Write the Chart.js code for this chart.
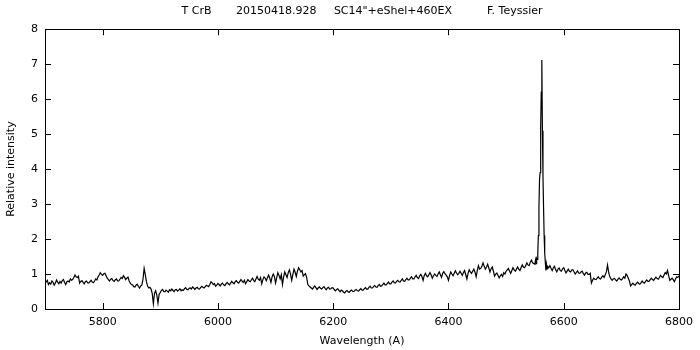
<!DOCTYPE html>
<html>
<head>
<meta charset="utf-8">
<script src="https://cdn.jsdelivr.net/npm/chart.js@4.4.0/dist/chart.umd.min.js"></script>
<style>
  html, body { margin: 0; padding: 0; background: #fff; }
  #wrap { width: 700px; height: 350px; }
</style>
</head>
<body>
<div id="wrap"><canvas id="spectre"></canvas></div>
<script>
// T CrB, spectre du 2015-04-18
const titre = 'T CrB       20150418.928     SC14"+eShel+460EX          F. Teyssier';
const xTicks = [5800, 6000, 6200, 6400, 6600, 6800];
const yTicks = [0, 1, 2, 3, 4, 5, 6, 7, 8];

// cote bleu : 5700 -> 6548 A, un point tous les 2 A
const pas = 2;
const debutBleu = 5700;
const fluxBleu = [
  0.72, 0.78, 0.82, 0.70, 0.75, 0.71, 0.80, 0.76, 0.68, 0.74, 0.83, 0.77, 0.72, 0.79, 0.74, 0.81, 0.84, 0.76, 0.70, 0.78,
  0.80, 0.77, 0.86, 0.82, 0.84, 0.90, 0.97, 0.92, 0.90, 0.94, 0.74, 0.79, 0.81, 0.76, 0.72, 0.78, 0.80, 0.75, 0.74, 0.78,
  0.82, 0.77, 0.75, 0.80, 0.86, 0.83, 0.92, 0.97, 1.04, 0.99, 0.96, 1.01, 1.02, 0.95, 0.88, 0.84, 0.80, 0.85, 0.87, 0.81,
  0.79, 0.84, 0.86, 0.80, 0.80, 0.85, 0.90, 0.87, 0.95, 0.91, 0.84, 0.88, 0.91, 0.80, 0.74, 0.70, 0.69, 0.64, 0.63, 0.68,
  0.71, 0.65, 0.60, 0.66, 0.68, 0.85, 1.16, 0.98, 0.78, 0.66, 0.60, 0.62, 0.57, 0.45, 0.15, 0.45, 0.52, 0.40, 0.17, 0.42,
  0.47, 0.53, 0.56, 0.50, 0.49, 0.54, 0.51, 0.48, 0.55, 0.52, 0.57, 0.53, 0.50, 0.55, 0.56, 0.51, 0.54, 0.58, 0.52, 0.55,
  0.53, 0.58, 0.61, 0.56, 0.55, 0.59, 0.60, 0.57, 0.63, 0.60, 0.56, 0.60, 0.62, 0.58, 0.57, 0.61, 0.65, 0.62, 0.60, 0.64,
  0.68, 0.66, 0.64, 0.70, 0.78, 0.75, 0.70, 0.73, 0.65, 0.68, 0.73, 0.70, 0.66, 0.71, 0.74, 0.69, 0.67, 0.72, 0.76, 0.72,
  0.69, 0.74, 0.79, 0.75, 0.72, 0.78, 0.81, 0.76, 0.74, 0.79, 0.84, 0.80, 0.76, 0.82, 0.72, 0.78, 0.84, 0.80, 0.78, 0.83,
  0.88, 0.82, 0.78, 0.86, 0.93, 0.85, 0.82, 0.90, 0.72, 0.84, 0.92, 0.88, 0.81, 0.90, 0.97, 0.88, 0.76, 0.92, 1.00, 0.93,
  0.74, 0.90, 1.04, 0.96, 0.86, 0.98, 0.70, 0.92, 1.06, 0.98, 0.90, 1.04, 1.12, 1.00, 0.82, 0.98, 1.14, 1.05, 0.93, 1.08,
  1.18, 1.12, 1.06, 1.10, 0.94, 0.98, 1.01, 0.90, 0.70, 0.66, 0.63, 0.60, 0.57, 0.62, 0.66, 0.61, 0.56, 0.60, 0.63, 0.59,
  0.57, 0.61, 0.64, 0.59, 0.55, 0.60, 0.62, 0.57, 0.58, 0.61, 0.60, 0.55, 0.52, 0.56, 0.58, 0.53, 0.49, 0.54, 0.52, 0.48,
  0.46, 0.51, 0.53, 0.49, 0.48, 0.52, 0.54, 0.50, 0.50, 0.54, 0.56, 0.52, 0.51, 0.55, 0.58, 0.54, 0.54, 0.58, 0.61, 0.57,
  0.57, 0.62, 0.65, 0.60, 0.60, 0.64, 0.67, 0.63, 0.62, 0.67, 0.70, 0.65, 0.66, 0.70, 0.74, 0.69, 0.69, 0.73, 0.77, 0.72,
  0.72, 0.77, 0.80, 0.75, 0.74, 0.79, 0.82, 0.78, 0.77, 0.82, 0.86, 0.80, 0.79, 0.84, 0.88, 0.83, 0.83, 0.88, 0.92, 0.86,
  0.86, 0.92, 0.96, 0.90, 0.87, 0.94, 0.99, 0.93, 0.82, 0.96, 1.02, 0.95, 0.92, 0.98, 1.04, 0.97, 0.88, 0.95, 1.00, 0.96,
  0.93, 1.00, 1.06, 0.98, 0.90, 1.02, 1.07, 1.01, 0.97, 0.92, 0.82, 0.96, 1.06, 1.00, 0.95, 1.02, 1.09, 1.03, 0.98, 1.02,
  1.08, 1.02, 0.96, 1.04, 1.10, 0.98, 0.86, 1.02, 1.12, 1.06, 1.02, 1.08, 1.14, 1.06, 0.92, 1.10, 1.24, 1.14, 1.16, 1.22,
  1.32, 1.22, 1.14, 1.20, 1.28, 1.18, 1.06, 1.15, 1.20, 1.08, 0.94, 1.00, 1.03, 0.96, 0.89, 0.95, 0.99, 0.93, 1.04, 1.00,
  1.08, 1.12, 1.16, 1.08, 1.02, 1.10, 1.18, 1.12, 1.08, 1.14, 1.20, 1.14, 1.10, 1.18, 1.26, 1.20, 1.18, 1.24, 1.32, 1.26,
  1.24, 1.34, 1.40, 1.32, 1.30
];

// raie H-alpha, echantillonnage fin
const ondesHa = [6550, 6551, 6552, 6553, 6554, 6555, 6556, 6557, 6558, 6559,
  6560, 6561, 6562, 6563, 6564, 6565, 6566, 6567, 6568, 6569, 6570, 6571, 6572, 6574];
const fluxHa = [1.28, 1.40, 1.30, 1.45, 1.42, 1.60, 2.10, 2.90, 3.70, 3.90,
  5.20, 6.20, 7.12, 5.10, 3.80, 2.90, 2.10, 1.60, 1.35, 1.10, 1.28, 1.15, 1.22, 1.18];

// cote rouge : 6576 -> 6800 A, tous les 2 A
const debutRouge = 6576;
const fluxRouge = [
  1.24, 1.16, 1.10, 1.18, 1.22, 1.12, 1.06, 1.14, 1.17, 1.10, 1.08, 1.15, 1.18, 1.10, 1.03, 1.09, 1.14, 1.08, 1.06, 1.12,
  1.12, 1.06, 1.00, 1.05, 1.09, 1.03, 1.02, 1.06, 1.08, 1.01, 0.97, 1.03, 1.05, 0.99, 0.99, 1.02, 0.74, 0.82, 0.88, 0.85,
  0.84, 0.88, 0.92, 0.87, 0.86, 0.91, 0.95, 0.90, 0.98, 1.06, 1.26, 1.05, 0.92, 0.86, 0.82, 0.86, 0.88, 0.83, 0.80, 0.85,
  0.89, 0.85, 0.83, 0.87, 0.92, 0.88, 1.00, 0.96, 0.88, 0.80, 0.66, 0.70, 0.74, 0.70, 0.68, 0.73, 0.77, 0.73, 0.71, 0.75,
  0.80, 0.76, 0.74, 0.79, 0.83, 0.79, 0.79, 0.84, 0.88, 0.84, 0.82, 0.87, 0.91, 0.87, 0.85, 0.90, 0.96, 0.92, 0.90, 0.97,
  1.04, 1.00, 1.10, 0.96, 0.82, 0.85, 0.88, 0.84, 0.78, 0.86, 0.92, 0.90, 0.95
];

let points = [];
fluxBleu.forEach((f, i) => points.push({ x: debutBleu + i * pas, y: f }));
ondesHa.forEach((w, i) => points.push({ x: w, y: fluxHa[i] }));
fluxRouge.forEach((f, i) => points.push({ x: debutRouge + i * pas, y: f }));

Chart.defaults.font.family = '"DejaVu Sans", sans-serif';
Chart.defaults.font.size = 11;
Chart.defaults.color = '#000';

// cadre + graduations vers l'interieur (style gnuplot)
const cadre = {
  id: 'cadre',
  afterDraw(chart) {
    const { ctx, chartArea: a, scales } = chart;
    const L = 6;
    ctx.save();
    ctx.strokeStyle = '#000';
    ctx.lineWidth = 1;
    ctx.beginPath();
    xTicks.forEach(v => {
      const px = Math.round(scales.x.getPixelForValue(v)) + 0.5;
      ctx.moveTo(px, a.bottom); ctx.lineTo(px, a.bottom - L);
      ctx.moveTo(px, a.top); ctx.lineTo(px, a.top + L);
    });
    yTicks.forEach(v => {
      const py = Math.round(scales.y.getPixelForValue(v)) + 0.5;
      ctx.moveTo(a.left, py); ctx.lineTo(a.left + L, py);
      ctx.moveTo(a.right, py); ctx.lineTo(a.right - L, py);
    });
    ctx.stroke();
    ctx.strokeRect(Math.round(a.left) + 0.5, Math.round(a.top) + 0.5,
      Math.round(a.right - a.left), Math.round(a.bottom - a.top));
    ctx.restore();
  }
};

new Chart(document.getElementById('spectre'), {
  type: 'line',
  data: {
    datasets: [{
      data: points,
      borderColor: '#000',
      borderWidth: 1.2,
      pointRadius: 0,
      tension: 0,
      fill: false
    }]
  },
  options: {
    responsive: true,
    maintainAspectRatio: false,
    animation: false,
    layout: { padding: { left: 0, right: 20, top: 0, bottom: 0 } },
    plugins: {
      legend: { display: false },
      tooltip: { enabled: false },
      title: {
        display: true,
        text: titre,
        fullSize: false,
        font: { size: 11, weight: 'normal' },
        color: '#000',
        padding: { top: 5, bottom: 11 }
      }
    },
    scales: {
      x: {
        type: 'linear',
        min: 5700,
        max: 6800,
        afterBuildTicks: s => { s.ticks = xTicks.map(v => ({ value: v })); },
        afterFit: s => { s.height = 41; },
        grid: { display: false, drawTicks: false },
        border: { display: false },
        ticks: { padding: 7, color: '#000', maxRotation: 0, callback: v => String(v) },
        title: { display: true, text: 'Wavelength (A)', color: '#000', padding: 2 }
      },
      y: {
        min: 0,
        max: 8,
        afterBuildTicks: s => { s.ticks = yTicks.map(v => ({ value: v })); },
        afterFit: s => { s.width = 45; },
        grid: { display: false, drawTicks: false },
        border: { display: false },
        ticks: { padding: 7, color: '#000', callback: v => String(v) },
        title: { display: true, text: 'Relative intensity', color: '#000', padding: 5 }
      }
    }
  },
  plugins: [cadre]
});
</script>
</body>
</html>
